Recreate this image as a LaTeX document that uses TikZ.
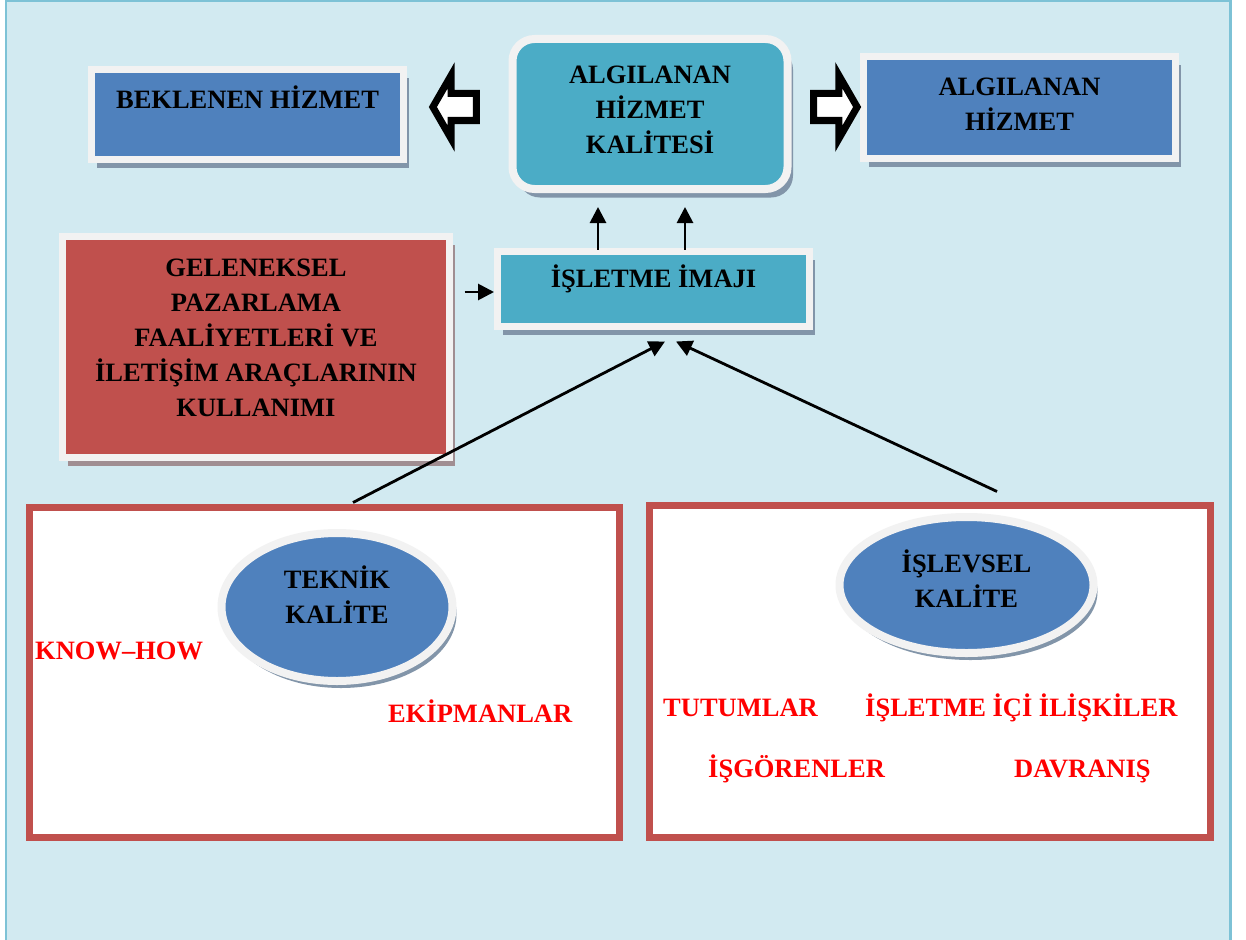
\documentclass[tikz,border=0pt]{standalone}
\usepackage{fontspec}
\setmainfont{Liberation Serif}
\usetikzlibrary{shapes.geometric,shapes.arrows,shadows,arrows.meta,calc}

\definecolor{bgblue}{HTML}{D2EAF1}
\definecolor{edgeblue}{HTML}{7DC2D6}
\definecolor{framegray}{HTML}{F2F2F2}
\definecolor{boxblue}{HTML}{4F81BD}
\definecolor{tealbox}{HTML}{4BACC6}
\definecolor{brick}{HTML}{C0504D}
\definecolor{shadeblue}{HTML}{8295A9}
\definecolor{shadered}{HTML}{A08E92}
\newcommand{\padbelow}[1]{\rule[-#1]{0pt}{#1}}

\tikzset{
  lbl/.style={font=\bfseries\fontsize{26.5}{35}\selectfont, align=center},
  dropped/.style={drop shadow={shadow xshift=5.5pt, shadow yshift=-8.5pt, fill=#1, opacity=1}},
  dropped/.default=shadeblue,
  panel/.style={lbl, draw=framegray, line width=7pt, inner sep=0pt},
  oval/.style={lbl, ellipse, draw=framegray, fill=boxblue, line width=8pt, inner sep=0pt,
    drop shadow={shadow xshift=4pt, shadow yshift=-7pt, fill=shadeblue, opacity=1}},
  area/.style={draw=brick, fill=white, line width=7pt, inner sep=0pt},
  redlbl/.style={lbl, text=red, anchor=base west, inner sep=0pt},
  hollow/.style={single arrow, draw=black, fill=white, line width=7pt, inner xsep=0pt,
    inner ysep=10pt, single arrow head extend=18pt, single arrow tip angle=120,
    minimum height=43.5pt},
  arr/.style={line width=2.8pt, -{Triangle[length=16pt,width=16pt]}}
}

\begin{document}
\begin{tikzpicture}[x=1pt, y=-1pt]
  \useasboundingbox (0,0) rectangle (1246,939);
  \fill[white] (0,0) rectangle (1246,939);
  \draw[fill=bgblue, draw=edgeblue, line width=2.5pt] (6,1) rectangle (1230.5,950);

  \node[panel, dropped, fill=boxblue, minimum width=312pt, minimum height=90pt] (exp) at (247.5,114.5)
    {BEKLENEN HİZMET\padbelow{35.5pt}};
  \node[panel, dropped, fill=tealbox, rounded corners=22pt, line width=8pt, minimum width=275pt,
    minimum height=150pt] (qual) at (650,114) {ALGILANAN\\HİZMET\\KALİTESİ\padbelow{9pt}};
  \node[panel, dropped, fill=boxblue, minimum width=312pt, minimum height=102pt] (perc) at (1019.5,107.5)
    {ALGILANAN\\HİZMET\padbelow{6pt}};
  \node[panel, dropped, fill=tealbox, minimum width=312pt, minimum height=75pt] (img) at (653.5,289)
    {İŞLETME İMAJI\padbelow{26.5pt}};
  \node[panel, dropped=shadered, fill=brick, minimum width=387pt, minimum height=221pt]
    (trad) at (256,347)
    {GELENEKSEL\\PAZARLAMA\\FAALİYETLERİ VE\\İLETİŞİM ARAÇLARININ\\KULLANIMI\padbelow{19pt}};

  \node[hollow, shape border rotate=180] (toexp) at (458.5,107) {};
  \node[hollow] (toperc) at (831.5,107) {};

  \node[area, minimum width=590pt, minimum height=330pt] (tech) at (324.5,672.5) {};
  \node[area, minimum width=561pt, minimum height=332pt] (func) at (930,671.5) {};

  \node[oval, minimum width=231pt, minimum height=148pt] (techq) at (337,607)
    {TEKNİK\\KALİTE\padbelow{24.5pt}};
  \node[oval, minimum width=254pt, minimum height=136pt] (funcq) at (966.5,585)
    {İŞLEVSEL\\KALİTE\padbelow{12.5pt}};

  \node[redlbl] (know) at (35,659) {KNOW–HOW};
  \node[redlbl] (equip) at (388,722) {EKİPMANLAR};
  \node[redlbl] (attit) at (663,716) {TUTUMLAR};
  \node[redlbl] (rel) at (865,716) {İŞLETME İÇİ İLİŞKİLER};
  \node[redlbl] (staff) at (708,777) {İŞGÖRENLER};
  \node[redlbl] (behav) at (1014,777) {DAVRANIŞ};

  \draw[arr] ($(trad.east |- img.west)+(11.5,3)$) -- ($(img.west)+(0,3)$);
  \draw[arr] ($(img.north)+(-55.5,1.5)$) -- ($(qual.south)+(-52,14)$);
  \draw[arr] ($(img.north)+(31.5,1.5)$) -- ($(qual.south)+(35,14)$);
  \draw[arr] ($(tech.north)+(28.5,-1.5)$) -- ($(img.south)+(11.5,11.5)$);
  \draw[arr] ($(func.north)+(67,-10.5)$) -- ($(img.south)+(22.5,11.5)$);
\end{tikzpicture}
\end{document}
